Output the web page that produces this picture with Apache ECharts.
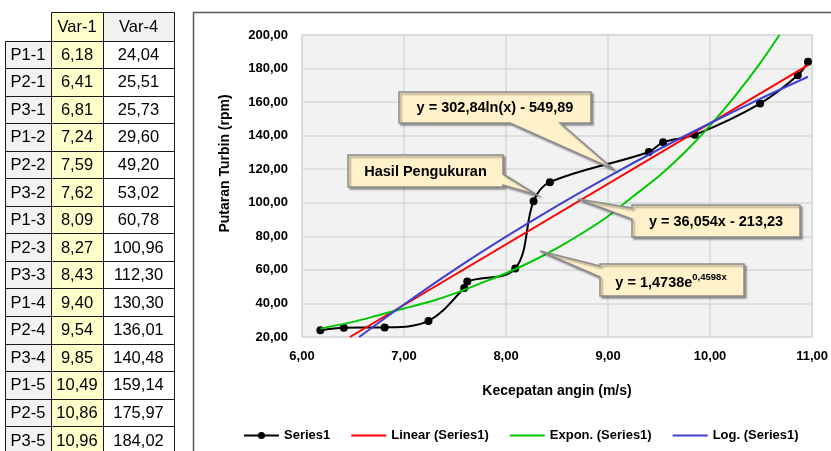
<!DOCTYPE html>
<html><head><meta charset="utf-8">
<script src="https://cdn.jsdelivr.net/npm/echarts@6/dist/echarts.min.js"></script>
<style>html,body{margin:0;padding:0;background:#fff;}#c{width:831px;height:451px;}</style>
</head><body><div id="c"></div>
<script>
// ---- data ----
const rowLabels = ['P1-1','P2-1','P3-1','P1-2','P2-2','P3-2','P1-3','P2-3','P3-3','P1-4','P2-4','P3-4','P1-5','P2-5','P3-5'];
const colHeaders = ['Var-1','Var-4'];
const var1 = [6.18,6.41,6.81,7.24,7.59,7.62,8.09,8.27,8.43,9.40,9.54,9.85,10.49,10.86,10.96];
const var4 = [24.04,25.51,25.73,29.60,49.20,53.02,60.78,100.96,112.30,130.30,136.01,140.48,159.14,175.97,184.02];
// trendlines
const linX = [6.47, 10.96];
const linY = [20, 182];
const expX = [6.18, 6.5, 6.75, 7, 7.25, 7.5, 7.75, 8, 8.25, 8.5, 8.75, 9, 9.25, 9.5, 9.75, 10, 10.25, 10.5, 10.68];
const expY = [25, 29, 33, 37, 41, 46, 52, 58, 65, 73, 82, 92, 104, 116, 130, 146, 164, 184, 200];
const logX = [6.56, 7, 7.5, 8, 8.5, 9, 9.5, 10, 10.5, 10.96];
const logY = [20, 39.4, 60.3, 79.8, 98.2, 115.5, 131.9, 147.4, 162.2, 175.1];
const seriesNames = ['Series1','Linear (Series1)','Expon. (Series1)','Log. (Series1)'];
const xTitle = 'Kecepatan angin (m/s)';
const yTitle = 'Putaran Turbin (rpm)';
const calloutLog = 'y = 302,84ln(x) - 549,89';
const calloutMeas = 'Hasil Pengukuran';
const calloutLin = 'y = 36,054x - 213,23';
const calloutExpBase = 'y = 1,4738e';
const calloutExpPow = '0,4598x';

const fmt = v => v.toFixed(2).replace('.', ',');
const zip = (a, b) => a.map((v, i) => [v, b[i]]);

// ---- table graphic ----
const colX = [5, 51, 103, 174];
const headTop = 12, headBot = 40.5, rowH = 27.55;
const tableEls = [];
const FONT_T = '16.5px "Liberation Sans", Arial, sans-serif';
function cell(x0, x1, y0, y1, fill, text) {
  tableEls.push({type:'rect', z:100, shape:{x:Math.round(x0)+0.5, y:Math.round(y0)+0.5, width:Math.round(x1)-Math.round(x0), height:Math.round(y1)-Math.round(y0)},
    style:{fill:fill, stroke:'#1a1a1a', lineWidth:1}});
  tableEls.push({type:'text', z:101, x:(x0+x1)/2, y:(y0+y1)/2 + 1,
    style:{text:text, fill:'#000', font:FONT_T, textAlign:'center', textVerticalAlign:'middle'}});
}
cell(colX[1], colX[2], headTop, headBot, '#FFFFCC', colHeaders[0]);
cell(colX[2], colX[3], headTop, headBot, '#F2F2F2', colHeaders[1]);
rowLabels.forEach((lab, i) => {
  const y0 = headBot + i * rowH, y1 = y0 + rowH;
  cell(colX[0], colX[1], y0, y1, '#F2F2F2', lab);
  cell(colX[1], colX[2], y0, y1, '#FFFFCC', fmt(var1[i]));
  cell(colX[2], colX[3], y0, y1, '#FFFFFF', fmt(var4[i]));
});

// ---- callouts ----
const CALL_STYLE = {fill:'#FFF1C9', stroke:'#8C8C8C', lineWidth:1.5, shadowBlur:2, shadowOffsetX:2, shadowOffsetY:2, shadowColor:'rgba(0,0,0,0.35)'};
const FONT_C = 'bold 14.5px "Liberation Sans", Arial, sans-serif';
function callout(points, cx, cy, textEl) {
  return [
    {type:'polygon', z:110, shape:{points:points}, style:Object.assign({}, CALL_STYLE)},
    Object.assign({type:'text', z:111, x:cx, y:cy}, textEl)
  ];
}
const calloutEls = [].concat(
  callout([[399,92],[591,92],[591,123],[560,123],[613,169],[510,123],[399,123]], 495, 108,
    {style:{text:calloutLog, fill:'#000', font:FONT_C, textAlign:'center', textVerticalAlign:'middle'}}),
  callout([[348,155],[503,155],[503,174],[537,195],[503,185],[503,187],[348,187]], 425.5, 171.5,
    {style:{text:calloutMeas, fill:'#000', font:FONT_C, textAlign:'center', textVerticalAlign:'middle'}}),
  callout([[632,205],[800,205],[800,237],[632,237],[632,219],[578,199],[632,208]], 716, 221.5,
    {style:{text:calloutLin, fill:'#000', font:FONT_C, textAlign:'center', textVerticalAlign:'middle'}}),
  callout([[600,264],[744,264],[744,296],[600,296],[600,277],[540,251],[600,266]], 671, 281,
    {style:{text:'{m|' + calloutExpBase + '}{s|' + calloutExpPow + '}', textAlign:'center', textVerticalAlign:'middle',
      rich:{m:{fontSize:14.5, fontWeight:'bold', fontFamily:'"Liberation Sans", Arial, sans-serif', fill:'#000', lineHeight:18, verticalAlign:'bottom'},
            s:{fontSize:9.5, fontWeight:'bold', fontFamily:'"Liberation Sans", Arial, sans-serif', fill:'#000', lineHeight:18, verticalAlign:'top'}}}})
);

const frameEls = [
  {type:'polyline', z:90, shape:{points:[[193.5,451],[193.5,12.5],[831,12.5]]}, style:{stroke:'#5a5a5a', lineWidth:1.5, fill:null}},
  {type:'text', z:100, x:225, y:163.5, rotation:Math.PI/2,
    style:{text:yTitle, fill:'#000', font:'bold 14px "Liberation Sans", Arial, sans-serif', textAlign:'center', textVerticalAlign:'middle'}},
  {type:'text', z:100, x:557, y:391,
    style:{text:xTitle, fill:'#000', font:'bold 14px "Liberation Sans", Arial, sans-serif', textAlign:'center', textVerticalAlign:'middle'}}
];

const chart = echarts.init(document.getElementById('c'), null, {renderer:'canvas'});
const axisLabelStyle = {color:'#000', fontWeight:'bold', fontSize:13, fontFamily:'"Liberation Sans", Arial, sans-serif'};
const hiddenSym = {opacity:0, color:'rgba(0,0,0,0)', borderWidth:0};
chart.setOption({
  animation:false,
  backgroundColor:'#fff',
  grid:{left:302, top:35, width:511, height:302, show:true, backgroundColor:'#F2F2F2', borderColor:'#D9D9D9', borderWidth:1.5},
  xAxis:{type:'value', min:6, max:11, interval:1,
    axisLine:{show:false}, axisTick:{show:false},
    splitLine:{show:true, lineStyle:{color:'#D9D9D9', width:1.5}},
    axisLabel:Object.assign({margin:13, formatter:fmt}, axisLabelStyle)},
  yAxis:{type:'value', min:20, max:200, interval:20,
    axisLine:{show:false}, axisTick:{show:false},
    splitLine:{show:true, lineStyle:{color:'#D9D9D9', width:1.5}},
    axisLabel:Object.assign({margin:14, formatter:fmt}, axisLabelStyle)},
  legend:{data:[
      {name:seriesNames[0]},
      {name:seriesNames[1], itemStyle:hiddenSym},
      {name:seriesNames[2], itemStyle:hiddenSym},
      {name:seriesNames[3], itemStyle:hiddenSym}],
    left:243, top:429, padding:0, itemWidth:35, itemHeight:9, itemGap:20,
    textStyle:{color:'#000', fontWeight:'bold', fontSize:13, fontFamily:'"Liberation Sans", Arial, sans-serif'}},
  series:[
    {name:seriesNames[0], type:'line', data:zip(var1, var4), smooth:0.35, symbol:'circle', symbolSize:8,
      itemStyle:{color:'#000'}, lineStyle:{color:'#000', width:2}, z:3},
    {name:seriesNames[1], type:'line', data:zip(linX, linY), symbol:'none', itemStyle:{color:'#FF0000'}, lineStyle:{color:'#FF0000', width:2}, z:4},
    {name:seriesNames[2], type:'line', data:zip(expX, expY), smooth:0.2, symbol:'none', itemStyle:{color:'#00C800'}, lineStyle:{color:'#00C800', width:2}, z:4},
    {name:seriesNames[3], type:'line', data:zip(logX, logY), smooth:0.3, symbol:'none', itemStyle:{color:'#3F3FD0'}, lineStyle:{color:'#3F3FD0', width:2}, z:4}
  ],
  graphic:{elements:[].concat(frameEls, tableEls, calloutEls)}
});
</script>
</body></html>
